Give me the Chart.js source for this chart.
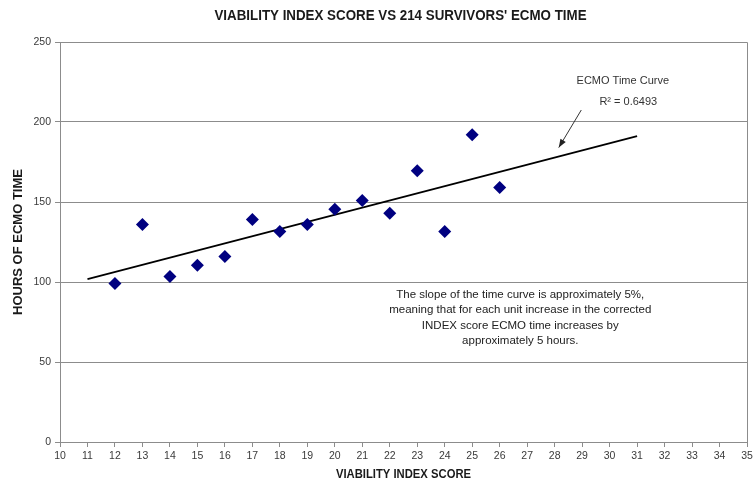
<!DOCTYPE html>
<html><head><meta charset="utf-8">
<script src="https://cdn.jsdelivr.net/npm/chart.js@4.4.1/dist/chart.umd.min.js"></script>
<style>html,body{margin:0;padding:0;background:#fff}#wrap{width:756px;height:487px;position:relative}</style>
</head><body><div id="wrap"><canvas id="c" width="756" height="487"></canvas></div>
<script>
// ---- data ----
const indexScores = [12, 13, 14, 15, 16, 17, 18, 19, 20, 21, 22, 23, 24, 25, 26];
const ecmoHours   = [99, 136, 103.5, 110.5, 116, 139, 131.5, 136, 145.5, 151, 143, 169.5, 131.5, 192, 159];
const xTickRange  = [10, 35];
const yTickValues = [0, 50, 100, 150, 200, 250];
const trendRange  = [11, 31];   // trend line drawn back 1 and forward 5 units
const chartTitle  = "VIABILITY INDEX SCORE VS 214 SURVIVORS' ECMO TIME";
const xTitle      = "VIABILITY INDEX SCORE";
const yTitle      = "HOURS OF ECMO TIME";
const curveLabel  = "ECMO Time Curve";
const r2Label     = "R\u00B2 = 0.6493";
const noteLines   = [
  "The slope of the time curve is approximately 5%,",
  "meaning that for each unit increase in the corrected",
  "INDEX score ECMO time increases by",
  "approximately 5 hours."
];

// ---- linear regression from the data ----
const n = indexScores.length;
const mx = indexScores.reduce((a,b)=>a+b,0)/n;
const my = ecmoHours.reduce((a,b)=>a+b,0)/n;
let sxy = 0, sxx = 0;
for (let i=0;i<n;i++){ sxy += (indexScores[i]-mx)*(ecmoHours[i]-my); sxx += (indexScores[i]-mx)**2; }
const slope = sxy/sxx, intercept = my - slope*mx;
const trendPts = trendRange.map(x => ({x, y: intercept + slope*x}));
const scatterPts = indexScores.map((x,i)=>({x, y: ecmoHours[i]}));

// annotation anchors (data coordinates)
const curveLabelAt = {x: 30.48, y: 225.5};
const r2LabelAt    = {x: 30.68, y: 212.5};
const arrowFrom    = {x: 28.97, y: 207.5};
const arrowTo      = {x: 28.15, y: 184};
const noteAt       = {x: 26.75, y: 92};
const noteStep     = 9.6;

const SANS = '"Liberation Sans", Arial, sans-serif';

function condensedText(ctx, text, cx, cy, sx){
  ctx.save();
  ctx.translate(cx, cy);
  ctx.scale(sx, 1);
  ctx.fillText(text, 0, 0);
  ctx.restore();
}

const annot = {
  id: 'annot',
  beforeDatasetsDraw(chart){
    const {ctx, chartArea:a} = chart;
    ctx.save();
    ctx.strokeStyle = '#8c8c8c'; ctx.lineWidth = 1;
    ctx.beginPath();
    ctx.moveTo(a.left, a.top+0.5); ctx.lineTo(a.right+0.5, a.top+0.5);
    ctx.lineTo(a.right+0.5, a.bottom);
    ctx.stroke();
    ctx.restore();
  },
  afterDraw(chart){
    const {ctx, chartArea:a, scales:{x, y}} = chart;
    ctx.save();
    ctx.textAlign = 'center'; ctx.textBaseline = 'middle';
    // chart title
    ctx.fillStyle = '#1a1a1a';
    ctx.font = 'bold 14.5px ' + SANS;
    condensedText(ctx, chartTitle, (a.left+a.right)/2 - 3, 16, 0.92);
    // x-axis title
    ctx.font = 'bold 12.5px ' + SANS;
    condensedText(ctx, xTitle, (a.left+a.right)/2, 475, 0.9);
    // curve label
    ctx.fillStyle = '#333';
    ctx.font = '11px ' + SANS;
    ctx.fillText(curveLabel, x.getPixelForValue(curveLabelAt.x), y.getPixelForValue(curveLabelAt.y));
    ctx.fillText(r2Label, x.getPixelForValue(r2LabelAt.x), y.getPixelForValue(r2LabelAt.y));
    // arrow
    const x1 = x.getPixelForValue(arrowFrom.x), y1 = y.getPixelForValue(arrowFrom.y);
    const x2 = x.getPixelForValue(arrowTo.x),   y2 = y.getPixelForValue(arrowTo.y);
    ctx.strokeStyle = '#333'; ctx.lineWidth = 1;
    ctx.beginPath(); ctx.moveTo(x1,y1); ctx.lineTo(x2,y2); ctx.stroke();
    const ang = Math.atan2(y2-y1, x2-x1), L = 9, W = 0.35;
    ctx.fillStyle = '#222';
    ctx.beginPath();
    ctx.moveTo(x2, y2);
    ctx.lineTo(x2 - L*Math.cos(ang-W), y2 - L*Math.sin(ang-W));
    ctx.lineTo(x2 - L*Math.cos(ang+W), y2 - L*Math.sin(ang+W));
    ctx.closePath(); ctx.fill();
    // note
    ctx.fillStyle = '#222';
    ctx.font = '11.5px ' + SANS;
    noteLines.forEach((t,i)=>{
      ctx.fillText(t, x.getPixelForValue(noteAt.x), y.getPixelForValue(noteAt.y - i*noteStep));
    });
    ctx.restore();
  }
};

new Chart(document.getElementById('c'), {
  type: 'scatter',
  data: {
    datasets: [
      { label: 'ECMO time', data: scatterPts, pointStyle: 'rectRot', pointRadius: 6.5, pointHoverRadius: 6.5,
        backgroundColor: '#000080', borderColor: '#000080', borderWidth: 0, order: 1 },
      { label: 'trend', type: 'line', data: trendPts, borderColor: '#000', borderWidth: 1.7,
        pointRadius: 0, fill: false, showLine: true, order: 2 }
    ]
  },
  options: {
    responsive: false, animation: false, devicePixelRatio: 1,
    layout: { padding: { top: 42, right: 9, left: 0, bottom: 0 } },
    plugins: { legend: { display: false }, tooltip: { enabled: false }, title: { display: false } },
    scales: {
      x: {
        type: 'linear', min: xTickRange[0], max: xTickRange[1],
        afterFit: s => { s.height = 45; },
        ticks: { stepSize: 1, color: '#3a3a3a', padding: 3, font: { family: SANS, size: 10.5 } },
        grid: { drawOnChartArea: false, drawTicks: true, tickLength: 5, color: '#8c8c8c' },
        border: { color: '#8c8c8c' },
        title: { display: false }
      },
      y: {
        type: 'linear', min: yTickValues[0], max: yTickValues[yTickValues.length-1],
        afterFit: s => { s.width = 60; },
        afterBuildTicks: s => { s.ticks = yTickValues.map(v => ({ value: v })); },
        ticks: { color: '#3a3a3a', padding: 4, font: { family: SANS, size: 10.5 } },
        grid: { color: '#8c8c8c', tickLength: 5 },
        border: { color: '#8c8c8c' },
        title: { display: true, text: yTitle, color: '#1a1a1a', padding: { top: 11, bottom: 0 },
                 font: { family: SANS, size: 13, weight: 'bold' } }
      }
    }
  },
  plugins: [annot]
});
</script>
</body></html>
